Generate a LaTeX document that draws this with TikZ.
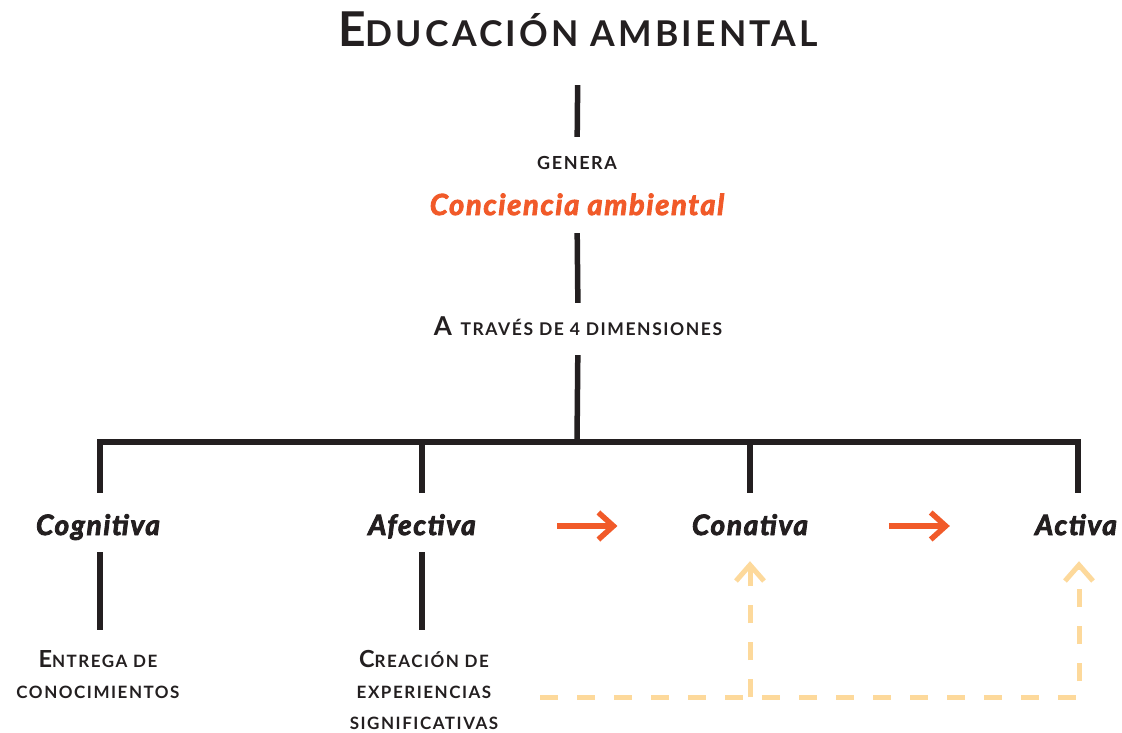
\documentclass[tikz,border=0pt]{standalone}
\usepackage{fontspec}
\setmainfont{Lato}[LetterSpace=9]
\newfontfamily\heavyfont{Lato Bold Italic}[FakeBold=3,LetterSpace=6]
\usetikzlibrary{arrows.meta,calc,positioning}

\definecolor{inkblack}{HTML}{231F20}
\definecolor{fireorange}{HTML}{F15A29}
\definecolor{sandpeach}{HTML}{FDD99B}

% fake small caps: \capsc{big size}{small size}{initial}{rest}
\newcommand{\capsc}[4]{{\fontsize{#1}{#1}\selectfont#3}{\fontsize{#2}{#2}\selectfont#4}}

\begin{document}
\begin{tikzpicture}[x=1pt,y=-1pt,
  link/.style={line width=5.5pt,color=inkblack},
  flow/.style={line width=5.5pt,color=fireorange,-{Straight Barb[length=15pt,width=27pt]}},
  feedback/.style={line width=5pt,color=sandpeach,dash pattern=on 18pt off 19pt,-{Straight Barb[length=16pt,width=28pt]}},
  heading/.style={inner sep=0pt,anchor=base,text height=34pt,text depth=0pt,font=\bfseries,color=inkblack},
  connector/.style={inner sep=0pt,anchor=base,text depth=0pt,font=\bfseries,color=inkblack},
  dimension/.style={inner sep=0pt,anchor=base,text height=22pt,text depth=4pt,font=\heavyfont\fontsize{28pt}{28pt}\selectfont,color=inkblack},
  detail/.style={inner sep=0pt,anchor=north,align=center,font=\bfseries\fontsize{17pt}{31pt}\selectfont,color=inkblack}]
 \path[fill=white,use as bounding box] (0,0) rectangle (1122,733);

 \node[heading] (title) at (578,47) {\capsc{48pt}{35.5pt}{E}{DUCACIÓN AMBIENTAL}};
 \node[connector,text height=13pt] (genera) at (577,170) {\capsc{18pt}{18pt}{}{GENERA}};
 \node[connector,text height=20pt,font=\heavyfont\fontsize{29pt}{29pt}\selectfont,color=fireorange] (conciencia) at (577,215) {Conciencia ambiental};
 \node[connector,text height=20pt] (traves) at (578,335) {\capsc{26pt}{17.5pt}{A~}{TRAVÉS DE 4 DIMENSIONES}};
 \coordinate (bar) at (577,442);

 \node[dimension] (cognitiva) at (98,535) {Cognitiva};
 \node[dimension] (afectiva) at (422,535) {Afectiva};
 \node[dimension] (conativa) at (750,535) {Conativa};
 \node[dimension] (activa) at (1076,535) {Activa};

 \node[detail] (entrega) at (98,650) {\capsc{23.5pt}{17pt}{E}{NTREGA DE}\\CONOCIMIENTOS};
 \node[detail] (creacion) at (424,650) {\capsc{23.5pt}{17pt}{C}{REACIÓN DE}\\EXPERIENCIAS\\SIGNIFICATIVAS};
 \coordinate (loopstart) at (540,697);

 % main column
 \draw[link,shorten <=38pt,shorten >=20pt] (title.south) -- (genera.north);
 \draw[link,shorten <=18pt,shorten >=12pt] (conciencia.south) -- (traves.north);
 \draw[link,shorten <=20pt] (traves.south) -- (bar);

 % four dimensions
 \draw[link,shorten <=20pt,shorten >=20pt] ([xshift=2pt]cognitiva.north) |- (bar) -| ([xshift=2pt]activa.north);
 \draw[link,shorten >=20pt] (afectiva.north |- bar) -- (afectiva.north);
 \draw[link,shorten >=20pt] (conativa.north |- bar) -- (conativa.north);
 \draw[link,shorten <=13pt,shorten >=20pt] ([xshift=2pt]cognitiva.south) -- ([xshift=2pt]cognitiva.south |- entrega.north);
 \draw[link,shorten <=13pt,shorten >=20pt] (afectiva.south) -- (afectiva.south |- creacion.north);

 \draw[flow] ($(afectiva)!0.413!(conativa)$) -- ($(afectiva)!0.596!(conativa)$);
 \draw[flow] ($(conativa)!0.426!(activa)$) -- ($(conativa)!0.613!(activa)$);

 \draw[feedback,shorten >=22pt] (loopstart) -| ([xshift=3pt]activa.south);
 \draw[feedback,shorten >=22pt] (loopstart -| conativa) -- (conativa.south);
\end{tikzpicture}
\end{document}
